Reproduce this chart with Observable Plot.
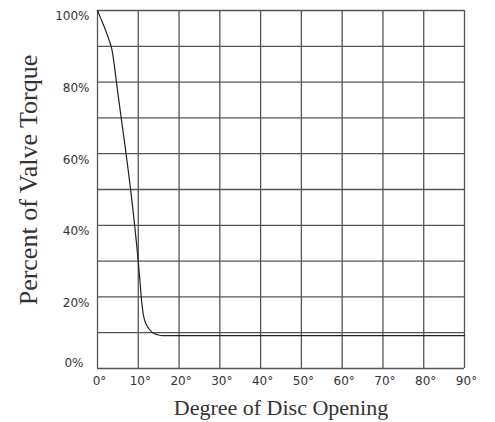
<!DOCTYPE html>
<html>
<head>
<meta charset="utf-8">
<script src="https://cdn.jsdelivr.net/npm/d3@7"></script>
<script src="https://cdn.jsdelivr.net/npm/@observablehq/plot@0.6"></script>
<style>
  body { margin: 0; background: #fff; }
  svg { background: #fff; }
</style>
</head>
<body>
<div id="chart"></div>
<script>
// Curve: degree of disc opening vs percent of valve torque
const degrees = [0, 0.8, 1.6, 2.4, 3.0, 3.5, 4.0, 4.6, 10.4, 10.8, 11.2, 11.6, 12.0, 12.6, 13.2, 14, 15, 16, 90];
const torque  = [100, 97.8, 95.6, 93.2, 91.2, 89.3, 85.8, 80.4, 24.6, 19, 15.3, 13.3, 12.2, 11.1, 10.3, 9.7, 9.35, 9.2, 9.2];

const xGrid = [0, 10, 20, 30, 40, 50, 60, 70, 80, 90];
const yGrid = [0, 10, 20, 30, 40, 50, 60, 70, 80, 90, 100];
const yLabels = [20, 40, 60, 80, 100];
const yZeroLabel = [0];

const xTitle = "Degree of Disc Opening";
const yTitle = "Percent of Valve Torque";

const data = degrees.map((d, i) => ({deg: d, pct: torque[i]}));

const chart = Plot.plot({
  width: 495,
  height: 422,
  marginLeft: 97,
  marginRight: 31,
  marginTop: 10,
  marginBottom: 54,
  style: {fontFamily: "DejaVu Sans", fontSize: "12px", color: "#333"},
  x: {domain: [0, 90]},
  y: {domain: [0, 100]},
  marks: [
    Plot.gridX(xGrid, {stroke: "#555", strokeOpacity: 1, strokeWidth: 1.3}),
    Plot.gridY(yGrid, {stroke: "#555", strokeOpacity: 1, strokeWidth: 1.3}),
    Plot.axisX(xGrid, {tickSize: 0, tickPadding: 8, tickFormat: d => d + "°", label: null, dx: 2, fill: "#333"}),
    Plot.axisY(yLabels, {tickSize: 0, tickPadding: 8, tickFormat: d => d + "%", label: null, dy: 6, fill: "#333"}),
    Plot.axisY(yZeroLabel, {tickSize: 0, tickPadding: 14, tickFormat: d => d + "%", label: null, dy: -5, fill: "#333"}),
    Plot.line(data, {x: "deg", y: "pct", stroke: "#222", strokeWidth: 1.2, curve: "monotone-x"}),
    Plot.text([xTitle], {frameAnchor: "bottom", dy: 46, text: d => d, fontFamily: "Liberation Serif", fontSize: 22, fill: "#333"}),
    Plot.text([yTitle], {frameAnchor: "left", textAnchor: "middle", dx: -68.5, dy: -9.5, rotate: -90, text: d => d, fontFamily: "Liberation Serif", fontSize: 26, fill: "#333"})
  ]
});
document.getElementById("chart").appendChild(chart);
</script>
</body>
</html>
